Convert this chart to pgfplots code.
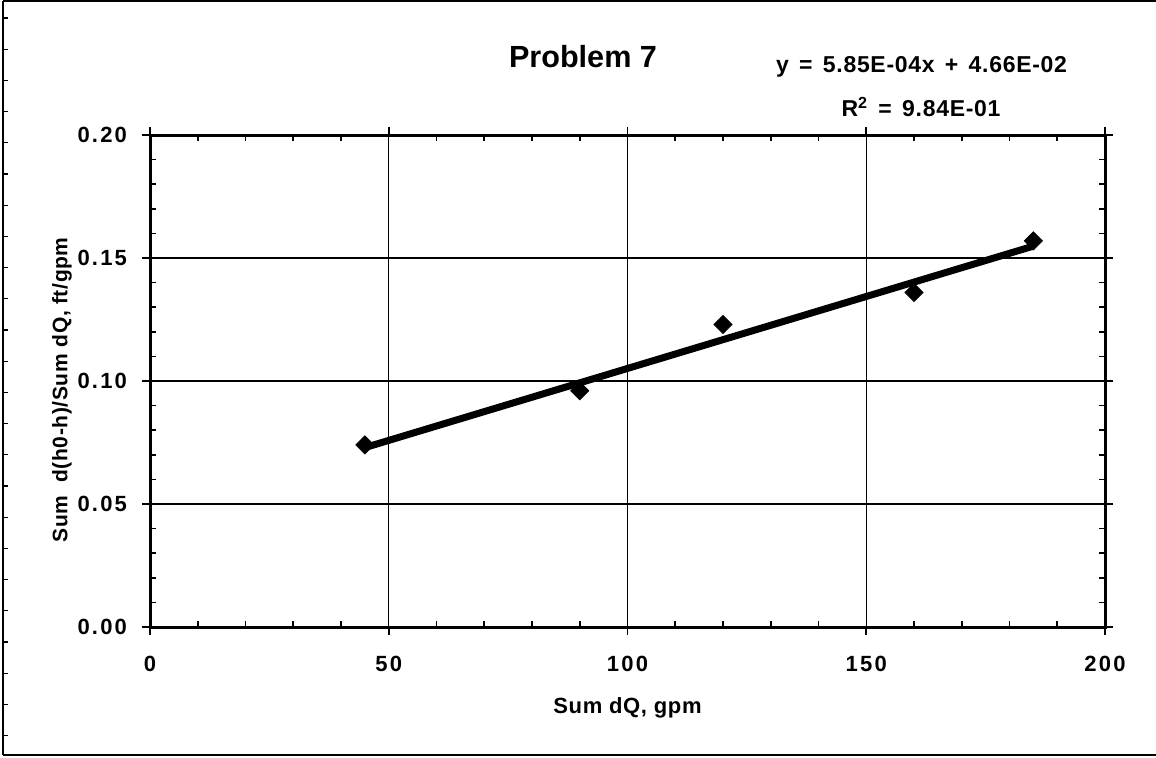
\documentclass[border=0pt]{standalone}
\usepackage{fontspec}
\setmainfont{Liberation Sans}
\newfontfamily\spfont{Liberation Sans}[LetterSpace=10]
\newfontfamily\lbfont{Liberation Sans}[LetterSpace=3]
\usepackage{pgfplots}
\pgfplotsset{compat=1.18}
\begin{document}
\begin{tikzpicture}
\useasboundingbox (0,0) rectangle (578pt,378.5pt);
% page frame
\draw[line width=0.8pt] (1.5pt,1pt) -- (1.5pt,378pt);
\draw[line width=0.6pt] (1.5pt,378pt) -- (578pt,378pt);
\draw[line width=0.8pt] (1.5pt,1pt) -- (578pt,1pt);
\foreach \k in {0,...,23} {
  \draw[line width=0.6pt] (1.5pt,{369.5pt-\k*15.6pt}) -- (4pt,{369.5pt-\k*15.6pt});
}
\begin{axis}[
  at={(75pt,65pt)}, anchor=south west,
  scale only axis, width=477.5pt, height=246pt,
  xmin=0, xmax=200, ymin=0, ymax=0.2,
  xtick={0,50,...,200}, ytick={0,0.05,0.1,0.15,0.2},
  minor x tick num=4, minor y tick num=4,
  grid=major,
  major grid style={black, line width=0.6pt},
  axis line style={line width=1.5pt},
  tick style={black, line width=0.8pt},
  tick align=inside,
  major tick length=0pt, minor tick length=3pt,
  extra x ticks={0,50,...,200}, extra x tick labels={},
  extra y ticks={0,0.05,0.1,0.15,0.2}, extra y tick labels={},
  extra tick style={tick align=outside, major tick length=4pt, grid=none},
  /pgf/number format/assume math mode=true,
  yticklabel style={/pgf/number format/fixed, /pgf/number format/zerofill, /pgf/number format/precision=2, xshift=-8pt},
  xticklabel style={yshift=-11pt},
  tick label style={font=\spfont\bfseries\fontsize{11}{13}\selectfont},
  scaled y ticks=false,
  xlabel={Sum dQ, gpm},
  ylabel={Sum\ \ d(h0-h)/Sum dQ, ft/gpm},
  label style={font=\lbfont\bfseries\fontsize{11}{13}\selectfont},
  xlabel style={at={(axis description cs:0.5,0)}, anchor=base, yshift=-43pt},
  ylabel style={at={(axis description cs:-0.0921,0.482)}, anchor=center, font=\lbfont\bfseries\fontsize{10.5}{13}\selectfont},
]
\addplot[black, line width=3.5pt] coordinates {(45,0.07293) (185,0.15483)};
\addplot[only marks, mark=square*, mark size=3.2pt, mark options={rotate=45, fill=black, draw=black}] coordinates {
(45,0.074) (90,0.096) (120,0.123) (160,0.136) (185,0.157)};
\end{axis}
\node[font=\bfseries\fontsize{15.3}{18}\selectfont] at (291.5pt,350pt) {Problem 7};
\node[anchor=base, font=\lbfont\bfseries\fontsize{11.5}{13}\selectfont] at (460.75pt,342pt) {y\hspace{0.45em}=\hspace{0.45em}5.85E-04x\hspace{0.45em}+\hspace{0.45em}4.66E-02};
\node[anchor=base, font=\lbfont\bfseries\fontsize{11.5}{13}\selectfont] at (460.5pt,320pt) {R\textsuperscript{2}\hspace{0.45em}=\hspace{0.45em}9.84E-01};
\end{tikzpicture}
\end{document}
